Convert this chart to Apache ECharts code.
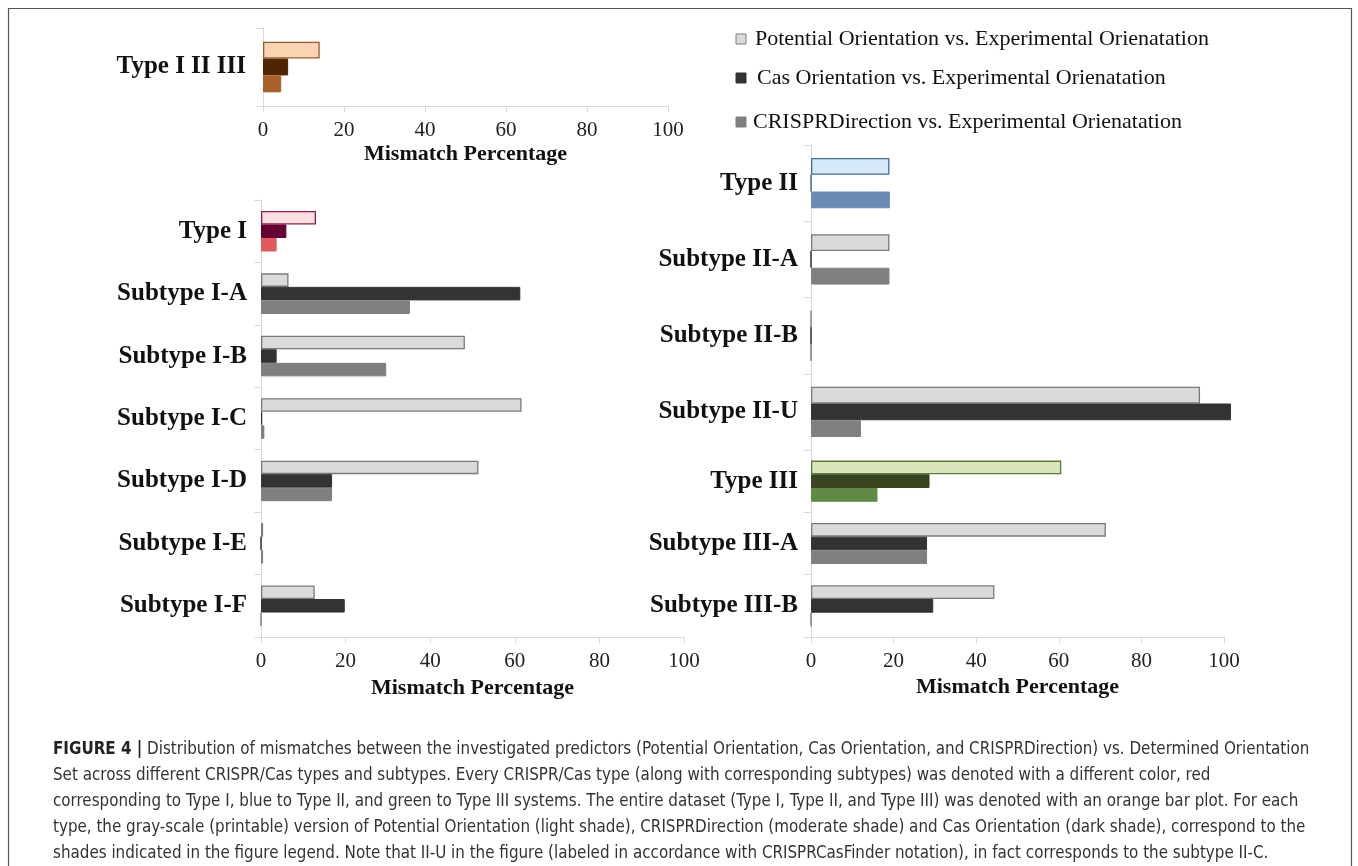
<!DOCTYPE html>
<html>
<head>
    <meta charset="utf-8">
    <title>Mismatch Percentage</title>
    <script src="https://cdn.jsdelivr.net/npm/echarts@6/dist/echarts.min.js"></script>
    <style>
        html, body { margin: 0; padding: 0; background: #fff; }
    </style>
</head>
<body>
    <div id="main" style="width: 1358px;height:866px;"></div>
    <script type="text/javascript">
        // values (percent)
        var topCats = ['Type I II III'];
        var topPotential = [14.0];
        var topCas = [6.2];
        var topCrispr = [4.5];

        var leftCats = ['Type I', 'Subtype I-A', 'Subtype I-B', 'Subtype I-C', 'Subtype I-D', 'Subtype I-E', 'Subtype I-F'];
        var leftPotential = [13.0, 6.5, 48.2, 61.6, 51.4, 0.5, 12.7];
        var leftCas = [6.0, 61.3, 3.7, 0.3, 16.8, 0, 19.8];
        var leftCrispr = [3.7, 35.2, 29.6, 0.8, 16.8, 0.5, 0];

        var rightTopCats = ['Type II', 'Subtype II-A', 'Subtype II-B', 'Subtype II-U'];
        var rightTopPotential = [19.0, 19.0, 0, 94.2];
        var rightTopCas = [0, 0, 0, 101.7];
        var rightTopCrispr = [19.1, 19.0, 0, 12.1];

        var rightBotCats = ['Type III', 'Subtype III-A', 'Subtype III-B'];
        var rightBotPotential = [60.6, 71.4, 44.4];
        var rightBotCas = [28.7, 28.1, 29.6];
        var rightBotCrispr = [16.1, 28.1, 0];

        var xMin = 0, xMax = 100, xStep = 20;

        var legendNames = [
            'Potential Orientation vs. Experimental Orienatation',
            'Cas Orientation vs. Experimental Orienatation',
            'CRISPRDirection vs. Experimental Orienatation'
        ];

        var captionLines = [
            '{b|FIGURE 4 |} Distribution of mismatches between the investigated predictors (Potential Orientation, Cas Orientation, and CRISPRDirection) vs. Determined Orientation',
            'Set across different CRISPR/Cas types and subtypes. Every CRISPR/Cas type (along with corresponding subtypes) was denoted with a different color, red',
            'corresponding to Type I, blue to Type II, and green to Type III systems. The entire dataset (Type I, Type II, and Type III) was denoted with an orange bar plot. For each',
            'type, the gray-scale (printable) version of Potential Orientation (light shade), CRISPRDirection (moderate shade) and Cas Orientation (dark shade), correspond to the',
            'shades indicated in the figure legend. Note that II-U in the figure (labeled in accordance with CRISPRCasFinder notation), in fact corresponds to the subtype II-C.'
        ];

        // colour themes per row
        var themes = {
            gray:   { light: '#dadada', lightBorder: '#7a7a7a', dark: '#333333', darkBorder: '#333333', mid: '#7f7f7f' },
            orange: { light: '#fbd4b4', lightBorder: '#a0582a', dark: '#4f2400', darkBorder: '#4f2400', mid: '#a8602c' },
            red:    { light: '#ffdde1', lightBorder: '#8c1f4b', dark: '#660033', darkBorder: '#660033', mid: '#e05b5b' },
            blue:   { light: '#d5e8fc', lightBorder: '#4b6a8e', dark: '#1f3864', darkBorder: '#4b6a8e', mid: '#6a8ab3' },
            green:  { light: '#d8e4bc', lightBorder: '#5c7a3a', dark: '#38441f', darkBorder: '#38441f', mid: '#618a46' }
        };
        var topThemes = ['orange'];
        var leftThemes = ['red', 'gray', 'gray', 'gray', 'gray', 'gray', 'gray'];
        var rightTopThemes = ['blue', 'gray', 'gray', 'gray'];
        var rightBotThemes = ['green', 'gray', 'gray'];

        var serif = '"Liberation Serif", "Times New Roman", serif';
        var narrow = '"Liberation Sans Narrow", "DejaVu Sans Condensed", "Liberation Sans", sans-serif';

        function styleFor(name, kind) {
            var t = themes[name];
            if (kind === 0) return { color: t.light, borderColor: t.lightBorder, borderWidth: 1.3 };
            if (kind === 1) return { color: t.dark, borderColor: t.darkBorder, borderWidth: 1 };
            return { color: t.mid, borderColor: t.mid, borderWidth: 1 };
        }

        function makeSeries(idx, kind, values, rowThemes, gap) {
            return {
                type: 'bar',
                name: legendNames[kind],
                xAxisIndex: idx,
                yAxisIndex: idx,
                barGap: 0,
                barCategoryGap: gap,
                clip: false,
                data: values.map(function (v, i) {
                    return { value: v, itemStyle: styleFor(rowThemes[i], kind) };
                })
            };
        }

        function xAxisFor(idx, nameGap) {
            return {
                type: 'value',
                gridIndex: idx,
                min: xMin,
                max: xMax,
                interval: xStep,
                splitLine: { show: false },
                axisLine: { show: true, lineStyle: { color: '#d9d9d9', width: 1 } },
                axisTick: { show: true, length: 6, lineStyle: { color: '#d9d9d9' } },
                axisLabel: { margin: 14, color: '#222', fontFamily: serif, fontSize: 21 },
                name: 'Mismatch Percentage',
                nameLocation: 'middle',
                nameGap: nameGap,
                nameTextStyle: { color: '#111', fontFamily: serif, fontSize: 22, fontWeight: 'bold' }
            };
        }

        function yAxisFor(idx, cats, margin) {
            return {
                type: 'category',
                gridIndex: idx,
                data: cats,
                inverse: true,
                axisLine: { show: true, lineStyle: { color: '#d9d9d9', width: 1 } },
                axisTick: { show: true, length: 7, lineStyle: { color: '#d9d9d9' } },
                axisLabel: { margin: margin, color: '#111', fontFamily: serif, fontSize: 25, fontWeight: 'bold' },
                splitLine: { show: false }
            };
        }

        var myChart = echarts.init(document.getElementById('main'));

        var graphics = [
            { type: 'rect', shape: { x: 8.5, y: 8.5, width: 1343, height: 900 },
              style: { fill: 'none', stroke: '#555', lineWidth: 1.2 }, silent: true }
        ];
        var legendY = [39, 78, 122];
        var legendX = [755, 757, 753];
        var legendFill = [themes.gray.light, themes.gray.dark, themes.gray.mid];
        var legendStroke = [themes.gray.lightBorder, themes.gray.dark, themes.gray.mid];
        for (var i = 0; i < 3; i++) {
            graphics.push({ type: 'rect', shape: { x: 736, y: legendY[i] - 5, width: 10, height: 10 },
                style: { fill: legendFill[i], stroke: legendStroke[i], lineWidth: 1 } });
            graphics.push({ type: 'text', x: legendX[i], y: legendY[i],
                style: { text: legendNames[i], fill: '#111', font: '22px ' + serif, verticalAlign: 'middle' } });
        }
        for (var j = 0; j < captionLines.length; j++) {
            graphics.push({ type: 'text', x: 53, y: 750 + j * 26, scaleX: 0.99,
                style: {
                    text: captionLines[j], fill: '#333', verticalAlign: 'middle',
                    font: '17px ' + narrow,
                    rich: { b: { fontWeight: 'bold', fill: '#222', fontSize: 17, fontFamily: narrow } }
                } });
        }

        var option = {
            animation: false,
            grid: [
                { left: 263, top: 28, width: 405, height: 78 },
                { left: 261, top: 200, width: 423, height: 437 },
                { left: 811, top: 145, width: 413, height: 305 },
                { left: 811, top: 450, width: 413, height: 187 }
            ],
            xAxis: [
                xAxisFor(0, 37),
                xAxisFor(1, 40),
                xAxisFor(2, 40),
                xAxisFor(3, 39)
            ],
            yAxis: [
                yAxisFor(0, topCats, 17),
                yAxisFor(1, leftCats, 14),
                yAxisFor(2, rightTopCats, 13),
                yAxisFor(3, rightBotCats, 13)
            ],
            series: [
                makeSeries(0, 0, topPotential, topThemes, '35%'),
                makeSeries(0, 1, topCas, topThemes, '35%'),
                makeSeries(0, 2, topCrispr, topThemes, '35%'),
                makeSeries(1, 0, leftPotential, leftThemes, '35%'),
                makeSeries(1, 1, leftCas, leftThemes, '35%'),
                makeSeries(1, 2, leftCrispr, leftThemes, '35%'),
                makeSeries(2, 0, rightTopPotential, rightTopThemes, '34%'),
                makeSeries(2, 1, rightTopCas, rightTopThemes, '34%'),
                makeSeries(2, 2, rightTopCrispr, rightTopThemes, '34%'),
                makeSeries(3, 0, rightBotPotential, rightBotThemes, '34%'),
                makeSeries(3, 1, rightBotCas, rightBotThemes, '34%'),
                makeSeries(3, 2, rightBotCrispr, rightBotThemes, '34%')
            ],
            graphic: graphics
        };

        // the right-top panel keeps its vertical axis but no bottom axis
        option.xAxis[2].axisLine.show = false;
        option.xAxis[2].axisTick.show = false;
        option.xAxis[2].axisLabel.show = false;
        option.xAxis[2].name = '';

        myChart.setOption(option);
    </script>
</body>
</html>
